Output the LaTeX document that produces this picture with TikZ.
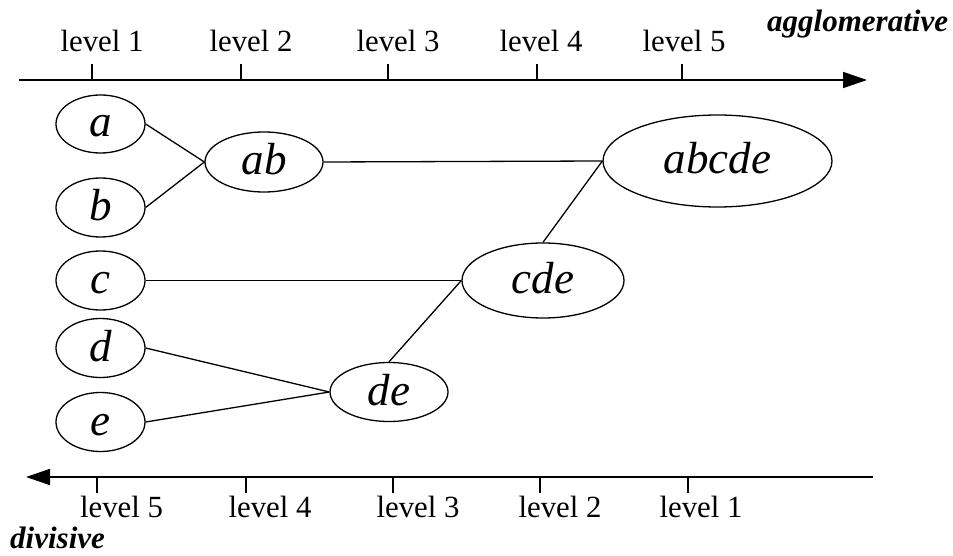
\documentclass[tikz,border=0pt]{standalone}
\usepackage{fontspec}
\setmainfont{Liberation Serif}
\usetikzlibrary{shapes.geometric,arrows.meta}

\tikzset{
  cluster/.style={ellipse, draw, line width=1.3pt, inner sep=0pt,
    font=\fontsize{45}{48}\selectfont\itshape, text height=26pt, text depth=0pt},
  link/.style={line width=1.3pt},
  axis/.style={line width=1.6pt},
  tick/.style={line width=1.4pt},
  lvl/.style={anchor=base, inner sep=0pt, font=\fontsize{30.8}{34}\selectfont},
  direction/.style={anchor=base west, inner sep=0pt,
    font=\fontsize{31}{34}\selectfont\bfseries\itshape}
}

\begin{document}
\begin{tikzpicture}[x=1pt, y=-1pt]
  \useasboundingbox (0,0) rectangle (953,556);

  % agglomerative axis (top)
  \coordinate (t0) at (19,80);
  \coordinate (t1) at (867,80);
  \draw[axis, -{Triangle[length=24pt,width=16pt]}] (t0) -- (t1);
  \foreach \x/\lx/\n in {92/102/1, 241/251/2, 388/398/3, 537/541/4, 682/684/5} {
    \draw[tick] (\x,80) -- (\x,64);
    \node[lvl] (top\n) at (\lx,52) {level \n};
  }
  \node[direction] (agg) at (767,32) {agglomerative};

  % divisive axis (bottom)
  \coordinate (b0) at (873,477);
  \coordinate (b1) at (26,477);
  \draw[axis, -{Triangle[length=24pt,width=16pt]}] (b0) -- (b1);
  \foreach \x/\lx/\n in {97/121.5/5, 246/270/4, 393/418/3, 540/560/2, 688/701/1} {
    \draw[tick] (\x,477) -- (\x,493);
    \node[lvl] (bot\n) at (\lx,517) {level \n};
  }
  \node[direction] (div) at (10,548) {divisive};

  % clusters
  \node[cluster, minimum width=89pt, minimum height=58pt] (a) at (100.5,124) {a};
  \node[cluster, minimum width=89pt, minimum height=59pt] (b) at (100.5,207.5) {b};
  \node[cluster, minimum width=89pt, minimum height=59pt] (c) at (100.5,280.5) {c};
  \node[cluster, minimum width=89pt, minimum height=59pt] (d) at (100.5,348) {d};
  \node[cluster, minimum width=89pt, minimum height=59pt] (e) at (100.5,422) {e};
  \node[cluster, minimum width=118pt, minimum height=60pt] (ab) at (264,162) {ab};
  \node[cluster, minimum width=118pt, minimum height=59pt] (de) at (389,392) {de};
  \node[cluster, minimum width=162pt, minimum height=75pt] (cde) at (543,280.5) {cde};
  \node[cluster, minimum width=229pt, minimum height=92pt] (abcde) at (717.5,161) {abcde};

  % merges
  \draw[link] (a.east) -- (ab.west);
  \draw[link] (b.east) -- (ab.west);
  \draw[link] (ab.east) -- (abcde.west);
  \draw[link] (c.east) -- (cde.west);
  \draw[link] (d.east) -- (de.west);
  \draw[link] (e.east) -- (de.west);
  \draw[link] (de.north) -- (cde.west);
  \draw[link] (cde.north) -- (abcde.west);
\end{tikzpicture}
\end{document}
